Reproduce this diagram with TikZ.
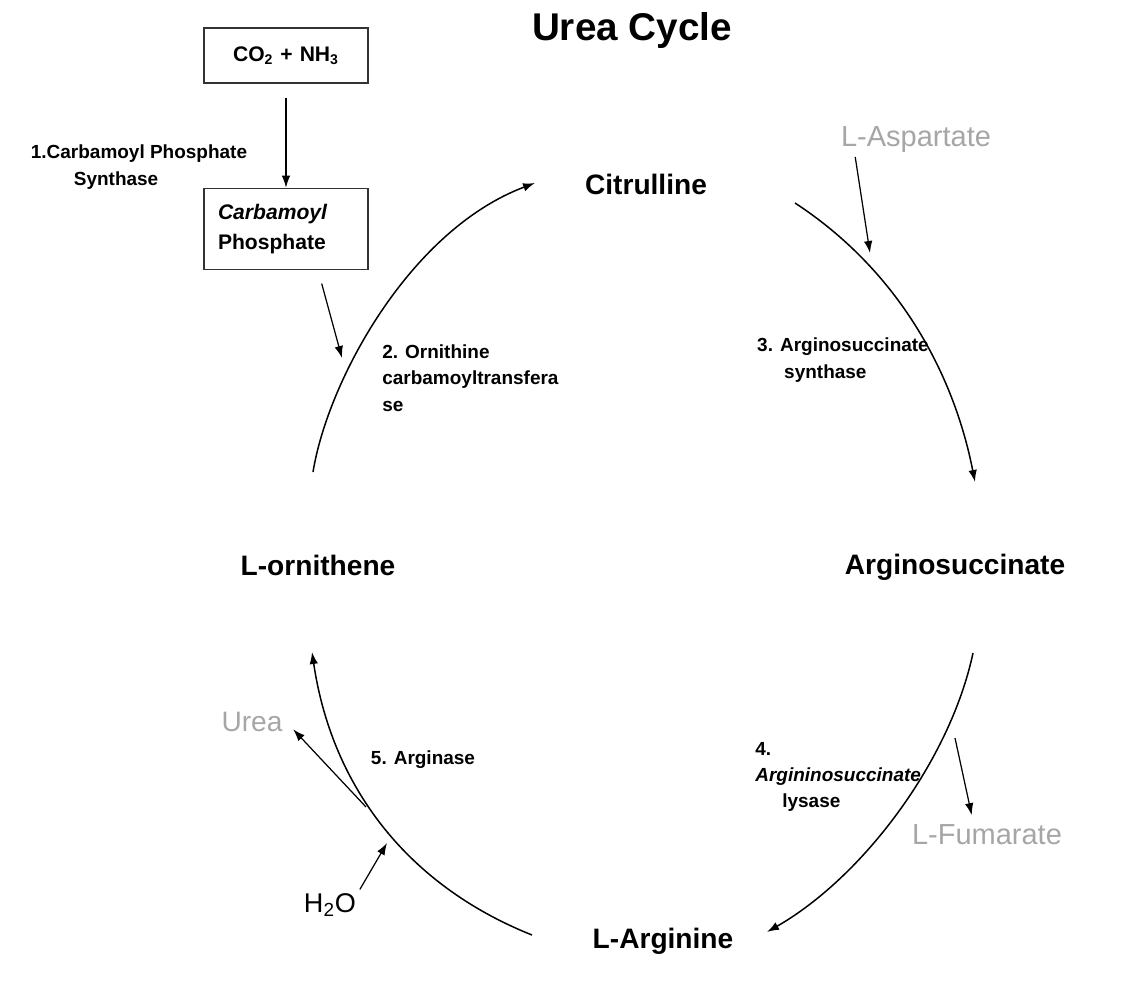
\documentclass[tikz,border=0pt]{standalone}
\usepackage{fontspec}
\setmainfont{Liberation Sans}
\usepackage{tikz}
\usetikzlibrary{arrows.meta,positioning}

\begin{document}
\begin{tikzpicture}[x=0.2mm, y=-0.2mm, >={Latex[length=2.4mm,width=1.7mm]},
  compound/.style={font=\bfseries\fontsize{16}{19}\selectfont, inner sep=2pt},
  enzyme/.style={font=\bfseries\fontsize{10.8}{15}\selectfont, align=left, inner sep=0pt},
  side/.style={font=\fontsize{16.5}{19}\selectfont, text=black!35, inner sep=2pt},
  box/.style={draw=black!80, line width=0.8pt, font=\bfseries\fontsize{12}{17}\selectfont, inner xsep=2.8mm, text width=27.2mm},
  cyc/.style={->, line width=0.85pt},
  line/.style={->, line width=0.7pt}]
\useasboundingbox (0,0) rectangle (1146,986);
\node[font=\bfseries\fontsize{22}{26}\selectfont] (title) at (632,31) {Urea Cycle};
\node[box, align=center, minimum height=11mm] (gas) at (286,55.5) {CO\textsubscript{2} + NH\textsubscript{3}};
\node[box, align=left, minimum height=16.2mm, below=20.8mm of gas] (carbp) {\textit{Carbamoyl}\\Phosphate};
\node[enzyme] (cps) at (139,167) {1.Carbamoyl Phosphate\\\hspace*{8.6mm}Synthase};
\node[compound] (cit) at (646,184) {Citrulline};
\node[compound] (asuc) at (955,567) {Arginosuccinate};
\node[compound] (larg) at (663,941) {L-Arginine};
\node[compound] (lorn) at (318,565) {L-ornithene};
\node[enzyme, anchor=west] (otc) at (382,378) {2. Ornithine\\carbamoyltransfera\\se};
\node[enzyme] (ass) at (843,360) {3. Arginosuccinate\\\hspace*{5.4mm}synthase};
\node[enzyme, anchor=west] (asl) at (755,777) {4.\\\textit{Argininosuccinate}\\\hspace*{5.4mm}lysase};
\node[enzyme] (arginase) at (423,760) {5. Arginase};
\node[side] (asp) at (916,140) {L-Aspartate};
\node[side] (fum) at (987,835) {L-Fumarate};
\node[side, font=\fontsize{16}{19}\selectfont] (urea) at (252,722) {Urea};
\node[font=\fontsize{15.4}{18}\selectfont, inner sep=2pt] (water) at (330,905) {H\textsubscript{2}O};
\coordinate (c2a) at (313,472);
\coordinate (c2b) at (535,183);
\coordinate (c3a) at (795,203);
\coordinate (c3b) at (975,482);
\coordinate (c4a) at (973,653);
\coordinate (c4b) at (767,932);
\coordinate (c5a) at (532,935);
\coordinate (c5b) at (312,652);
\coordinate (in2) at (342,358);
\coordinate (in3) at (870,253);
\coordinate (out4) at (955,738);
\coordinate (out5) at (366,807);
\coordinate (in5) at (387,843);
\draw[line, shorten <=2.8mm] (gas) -- (carbp);
\draw[line, shorten <=2.8mm] ([xshift=6.4mm]carbp.south) -- (in2);
\draw[cyc] (c2a) .. controls (328,380) and (410,230) .. (c2b);
\draw[cyc] (c3a) .. controls (896,269) and (953,370) .. (c3b);
\draw[line] ([xshift=3.6mm]asp.south west) -- (in3);
\draw[cyc] (c4a) .. controls (950,761) and (863,877) .. (c4b);
\draw[line, shorten >=1.2mm] (out4) -- ([xshift=-2.8mm]fum.north);
\draw[cyc] (c5a) .. controls (402,883) and (331,781) .. (c5b);
\draw[line, shorten >=2mm] (out5) -- (urea.east);
\draw[line] (water.north east) -- (in5);
\end{tikzpicture}
\end{document}
